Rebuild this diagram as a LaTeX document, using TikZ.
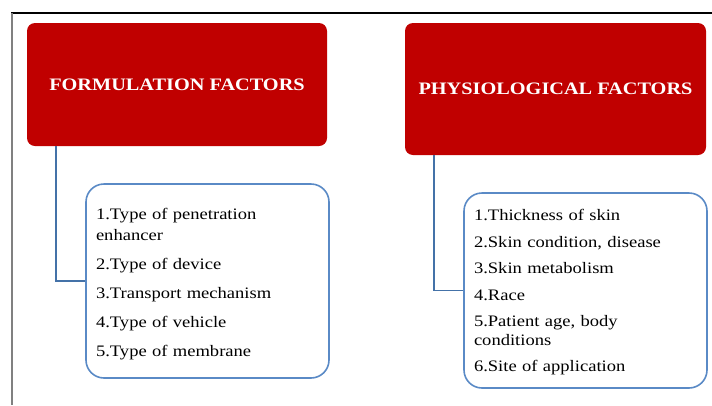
\documentclass[tikz,border=0pt]{standalone}
\usepackage{fontspec}
\setmainfont{Liberation Serif}[FakeStretch=1.16]
\definecolor{factorred}{HTML}{C00000}
\definecolor{listblue}{HTML}{5A8AC6}
\definecolor{linkblue}{HTML}{4472A8}

\begin{document}
\begin{tikzpicture}[x=1pt,y=-1pt,
	head/.style={shape=rectangle,rounded corners=8pt,fill=factorred,text=white,inner sep=0pt,
		font=\fontsize{17.5}{21}\selectfont\bfseries},
	listbox/.style={shape=rectangle,rounded corners=18pt,draw=listblue,line width=1.6pt,fill=white,
		minimum width=243pt,text width=223pt,inner xsep=10pt,inner ysep=0pt,align=left},
	link/.style={draw=linkblue,line width=1.6pt}]

	\useasboundingbox (0,0) rectangle (712,405);

	% page frame
	\draw[line width=1.8pt] (11,13) -- (712,13);
	\draw[gray,line width=2.4pt] (12,13) -- (12,405);

	\node[head,minimum width=300pt,minimum height=123pt] (fhead) at (177,84.5)   {FORMULATION FACTORS};
	\node[head,minimum width=301pt,minimum height=132pt] (phead) at (555.5,89)   {PHYSIOLOGICAL FACTORS};

	\node[listbox,minimum height=194pt,font=\fontsize{16}{20.5}\selectfont] (flist) at (207.5,281) {%
		\rule{0pt}{17pt}1.Type of penetration\\enhancer\\[8.5pt]
		2.Type of device\\[8.5pt]
		3.Transport mechanism\\[8.5pt]
		4.Type of vehicle\\[8.5pt]
		5.Type of membrane};
	\node[listbox,minimum height=195pt,font=\fontsize{16}{18.3}\selectfont] (plist) at (585.5,290.5) {%
		\rule{0pt}{15pt}1.Thickness of skin\\[8.2pt]
		2.Skin condition, disease\\[8.2pt]
		3.Skin metabolism\\[8.2pt]
		4.Race\\[8.2pt]
		5.Patient age, body\\conditions\\[8.2pt]
		6.Site of application};

	\draw[link] ([xshift=29pt]fhead.south west) |- (flist.west);
	\draw[link] ([xshift=29pt]phead.south west) |- (plist.west);

\end{tikzpicture}
\end{document}
